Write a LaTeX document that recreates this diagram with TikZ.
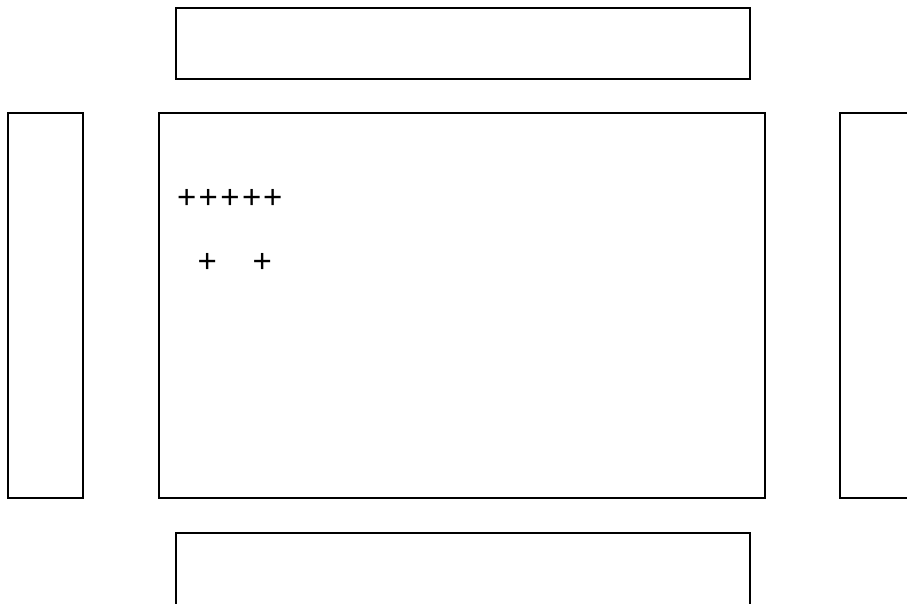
\documentclass[tikz,border=0pt]{standalone}
\usepackage{fontspec}
\setmainfont{Liberation Sans}
\begin{document}
\begin{tikzpicture}[x=1pt,y=-1pt,
  box/.style={draw=black, line width=2pt, rectangle, inner sep=0pt},
  plus/.style={inner sep=0pt, font=\fontsize{33}{33}\selectfont}]
\useasboundingbox (0,0) rectangle (907,604);
\clip (0,0) rectangle (907,604);
\node[box, minimum width=574pt, minimum height=71pt] (top) at (463,43.5) {};
\node[box, minimum width=75pt, minimum height=385pt] (left) at (45.5,305.5) {};
\node[box, minimum width=606pt, minimum height=385pt] (center) at (462,305.5) {};
\node[box, minimum width=120pt, minimum height=385pt] (right) at (900,305.5) {};
\node[box, minimum width=574pt, minimum height=120pt] (bottom) at (463,593) {};
\foreach \i/\xx in {1/186.7,2/208.3,3/230,4/251.7,5/272.7}
  \node[plus] (p\i) at (\xx,199) {+};
\node[plus] (q1) at (207.3,263) {+};
\node[plus] (q2) at (262.3,263) {+};
\end{tikzpicture}
\end{document}
